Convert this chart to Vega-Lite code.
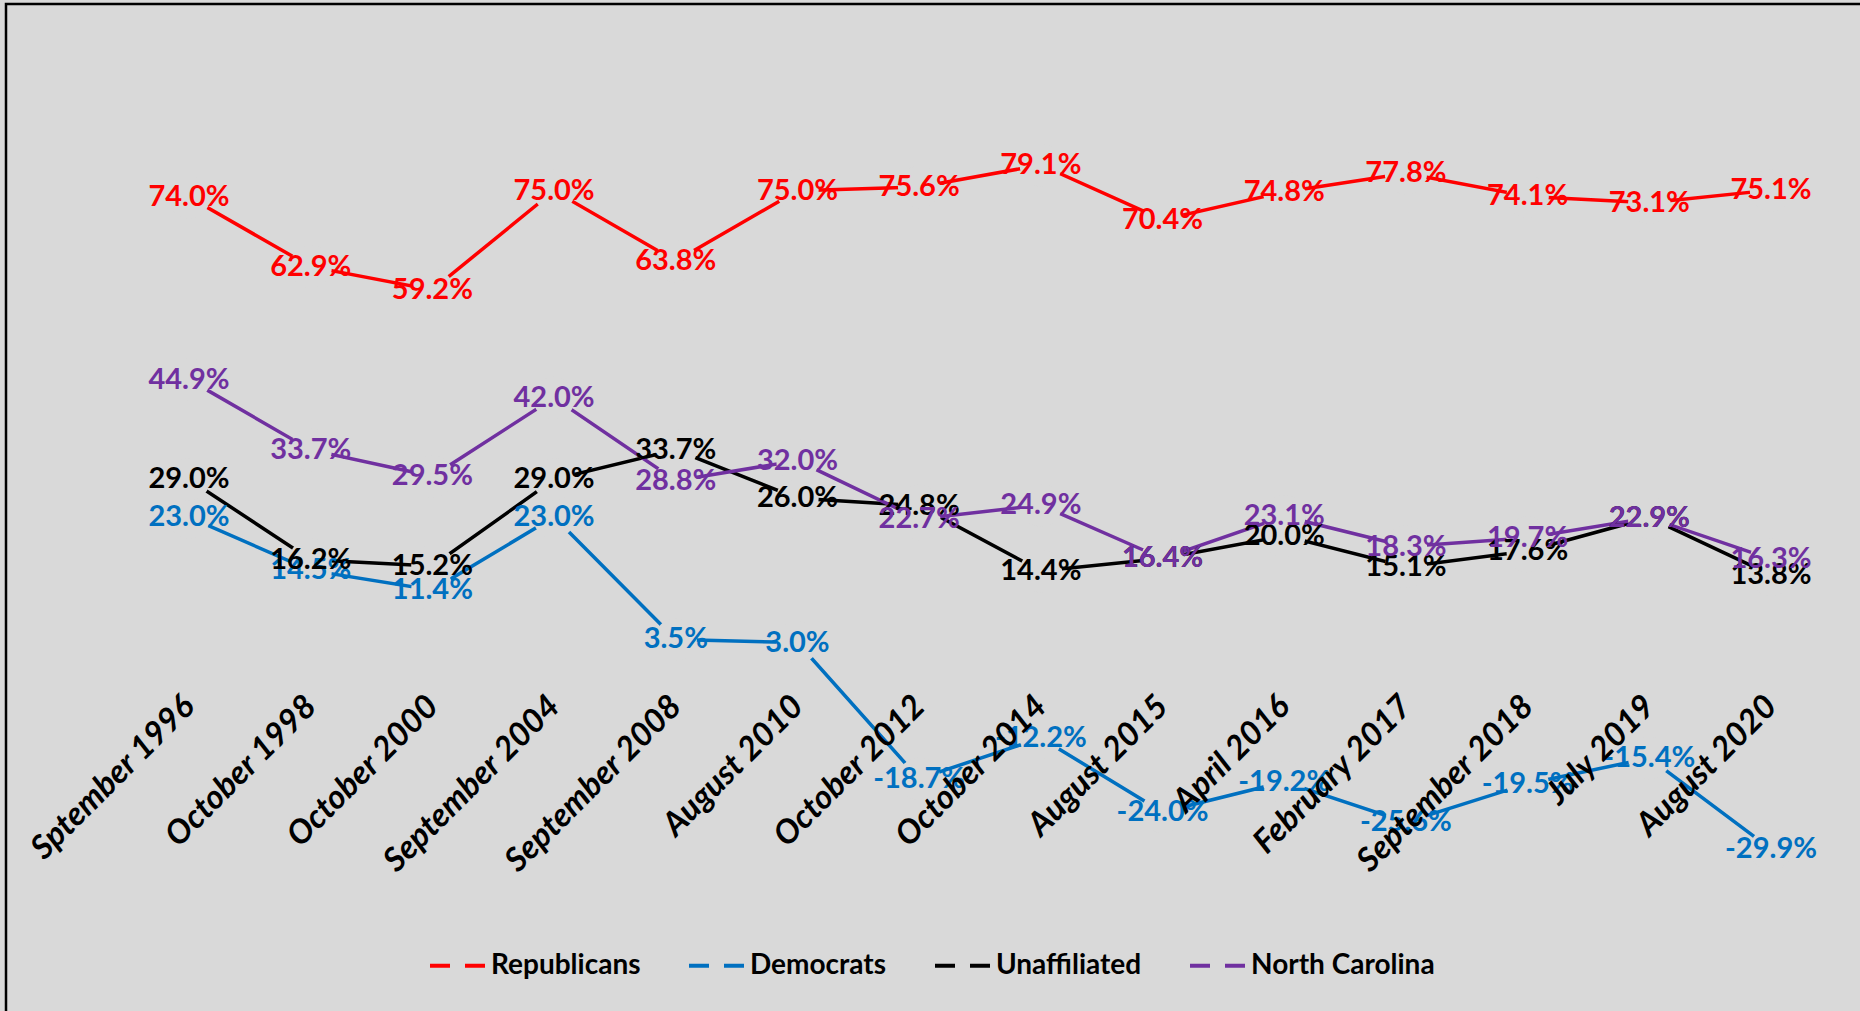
{
  "$schema": "https://vega.github.io/schema/vega-lite/v6.json",
  "width": 1854,
  "height": 1007,
  "autosize": {"type": "none"},
  "padding": {"left": 6, "top": 4, "right": 0, "bottom": 0},
  "background": "#d9d9d9",
  "config": {
    "view": {"stroke": "#000000", "strokeWidth": 2.5, "strokeDash": [1854, 2861, 1007]},
    "font": "Lato"
  },
  "data": {
    "values": [
      {"date": "Sptember 1996", "series": "Republicans", "value": 74.0},
      {"date": "October 1998", "series": "Republicans", "value": 62.9},
      {"date": "October 2000", "series": "Republicans", "value": 59.2},
      {"date": "September 2004", "series": "Republicans", "value": 75.0},
      {"date": "September 2008", "series": "Republicans", "value": 63.8},
      {"date": "August 2010", "series": "Republicans", "value": 75.0},
      {"date": "October 2012", "series": "Republicans", "value": 75.6},
      {"date": "October 2014", "series": "Republicans", "value": 79.1},
      {"date": "August 2015", "series": "Republicans", "value": 70.4},
      {"date": "April 2016", "series": "Republicans", "value": 74.8},
      {"date": "February 2017", "series": "Republicans", "value": 77.8},
      {"date": "September 2018", "series": "Republicans", "value": 74.1},
      {"date": "July 2019", "series": "Republicans", "value": 73.1},
      {"date": "August 2020", "series": "Republicans", "value": 75.1},
      {"date": "Sptember 1996", "series": "Democrats", "value": 23.0},
      {"date": "October 1998", "series": "Democrats", "value": 14.5},
      {"date": "October 2000", "series": "Democrats", "value": 11.4},
      {"date": "September 2004", "series": "Democrats", "value": 23.0},
      {"date": "September 2008", "series": "Democrats", "value": 3.5},
      {"date": "August 2010", "series": "Democrats", "value": 3.0},
      {"date": "October 2012", "series": "Democrats", "value": -18.7},
      {"date": "October 2014", "series": "Democrats", "value": -12.2},
      {"date": "August 2015", "series": "Democrats", "value": -24.0},
      {"date": "April 2016", "series": "Democrats", "value": -19.2},
      {"date": "February 2017", "series": "Democrats", "value": -25.6},
      {"date": "September 2018", "series": "Democrats", "value": -19.5},
      {"date": "July 2019", "series": "Democrats", "value": -15.4},
      {"date": "August 2020", "series": "Democrats", "value": -29.9},
      {"date": "Sptember 1996", "series": "Unaffiliated", "value": 29.0},
      {"date": "October 1998", "series": "Unaffiliated", "value": 16.2},
      {"date": "October 2000", "series": "Unaffiliated", "value": 15.2},
      {"date": "September 2004", "series": "Unaffiliated", "value": 29.0},
      {"date": "September 2008", "series": "Unaffiliated", "value": 33.7},
      {"date": "August 2010", "series": "Unaffiliated", "value": 26.0},
      {"date": "October 2012", "series": "Unaffiliated", "value": 24.8},
      {"date": "October 2014", "series": "Unaffiliated", "value": 14.4},
      {"date": "August 2015", "series": "Unaffiliated", "value": 16.4},
      {"date": "April 2016", "series": "Unaffiliated", "value": 20.0},
      {"date": "February 2017", "series": "Unaffiliated", "value": 15.1},
      {"date": "September 2018", "series": "Unaffiliated", "value": 17.6},
      {"date": "July 2019", "series": "Unaffiliated", "value": 22.9},
      {"date": "August 2020", "series": "Unaffiliated", "value": 13.8},
      {"date": "Sptember 1996", "series": "North Carolina", "value": 44.9},
      {"date": "October 1998", "series": "North Carolina", "value": 33.7},
      {"date": "October 2000", "series": "North Carolina", "value": 29.5},
      {"date": "September 2004", "series": "North Carolina", "value": 42.0},
      {"date": "September 2008", "series": "North Carolina", "value": 28.8},
      {"date": "August 2010", "series": "North Carolina", "value": 32.0},
      {"date": "October 2012", "series": "North Carolina", "value": 22.7},
      {"date": "October 2014", "series": "North Carolina", "value": 24.9},
      {"date": "August 2015", "series": "North Carolina", "value": 16.4},
      {"date": "April 2016", "series": "North Carolina", "value": 23.1},
      {"date": "February 2017", "series": "North Carolina", "value": 18.3},
      {"date": "September 2018", "series": "North Carolina", "value": 19.7},
      {"date": "July 2019", "series": "North Carolina", "value": 22.9},
      {"date": "August 2020", "series": "North Carolina", "value": 16.3}
    ]
  },
  "transform": [
    {"calculate": "replace(format(datum.value, '.1f'), '\u2212', '-') + '%'", "as": "label"}
  ],
  "encoding": {
    "x": {
      "field": "date",
      "type": "nominal",
      "sort": null,
      "scale": {"type": "point", "range": [183, 1765], "padding": 0},
      "axis": {
        "orient": "bottom",
        "offset": -310,
        "domain": false,
        "ticks": false,
        "tickSize": 0,
        "grid": false,
        "labelPadding": 0,
        "labelAngle": -45,
        "labelAlign": "right",
        "labelBaseline": "middle",
        "labelFont": "Lato",
        "labelFontSize": 33,
        "labelFontWeight": "bold",
        "labelFontStyle": "italic",
        "labelColor": "#000000",
        "labelLimit": 600,
        "labelOverlap": false,
        "title": null,
        "zindex": 1
      }
    },
    "y": {
      "field": "value",
      "type": "quantitative",
      "scale": {"domain": [-55.71, 104.76], "nice": false, "zero": false},
      "axis": null
    }
  },
  "layer": [
    {
      "mark": {"type": "line", "strokeWidth": 3.5},
      "encoding": {
        "color": {
          "field": "series",
          "type": "nominal",
          "sort": null,
          "scale": {
            "domain": ["Republicans", "Democrats", "Unaffiliated", "North Carolina"],
            "range": ["#ff0000", "#0070c0", "#000000", "#7030a0"]
          },
          "legend": {
            "title": null,
            "orient": "none",
            "legendX": 422,
            "legendY": 932,
            "direction": "horizontal",
            "symbolType": "stroke",
            "symbolSize": 3025,
            "symbolStrokeWidth": 4,
            "symbolDash": [20, 15],
            "labelFont": "Lato",
            "labelFontSize": 28,
            "labelFontWeight": "bold",
            "labelColor": "#000000",
            "labelLimit": 400,
            "labelOffset": 4,
            "columnPadding": 40
          }
        }
      }
    },
    {
      "mark": {"type": "point", "shape": "circle", "filled": true, "color": "#d9d9d9", "opacity": 1, "size": 1800, "strokeWidth": 0},
      "encoding": {"detail": {"field": "series", "type": "nominal"}}
    },
    {
      "mark": {"type": "text", "font": "Lato", "fontSize": 29, "fontWeight": "bold", "align": "center", "baseline": "middle"},
      "encoding": {
        "text": {"field": "label", "type": "nominal"},
        "fill": {
          "field": "series",
          "type": "nominal",
          "scale": {
            "domain": ["Republicans", "Democrats", "Unaffiliated", "North Carolina"],
            "range": ["#ff0000", "#0070c0", "#000000", "#7030a0"]
          },
          "legend": null
        }
      }
    }
  ]
}
